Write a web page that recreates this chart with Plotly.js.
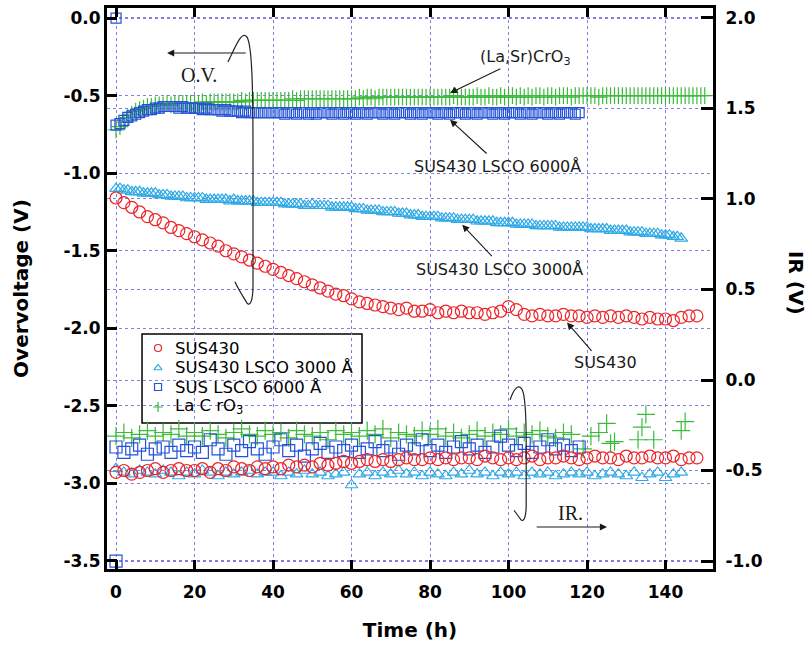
<!DOCTYPE html>
<html>
<head>
<meta charset="utf-8">
<script src="https://cdn.plot.ly/plotly-3.0.1.min.js"></script>
<style>body{margin:0;padding:0;background:#fff}#chart{width:810px;height:650px}</style>
</head>
<body>
<div id="chart"></div>
<script>
// ---------- time grids (h) ----------
const TIME_1H = [0,1,2,3,4,5,6,7,8,9,10,11,12,13,14,15,16,17,18,19,20,21,22,23,24,25,26,27,28,29,
30,31,32,33,34,35,36,37,38,39,40,41,42,43,44,45,46,47,48,49,50,51,52,53,54,55,56,57,58,59,
60,61,62,63,64,65,66,67,68,69,70,71,72,73,74,75,76,77,78,79,80,81,82,83,84,85,86,87,88,89,
90,91,92,93,94,95,96,97,98,99,100,101,102,103,104,105,106,107,108,109,110,111,112,113,114,115,116,117,118,119,
120,121,122,123,124,125,126,127,128,129,130,131,132,133,134,135,136,137,138,139,140,141,142,143,144,145,146,147,148,149,150];
const TIME_2H = [0,2,4,6,8,10,12,14,16,18,20,22,24,26,28,30,32,34,36,38,40,42,44,46,48,50,52,54,56,58,
60,62,64,66,68,70,72,74,76,78,80,82,84,86,88,90,92,94,96,98,100,102,104,106,108,110,112,114,116,118,
120,122,124,126,128,130,132,134,136,138,140,142,144,146,148];

// ---------- Overvoltage (V), left axis ----------
const ov_sus430 = [-1.16,-1.19,-1.22,-1.25,-1.28,-1.30,-1.32,-1.35,-1.37,-1.39,
-1.41,-1.43,-1.45,-1.47,-1.50,-1.52,-1.54,-1.56,-1.58,-1.60,
-1.62,-1.64,-1.66,-1.68,-1.70,-1.72,-1.74,-1.76,-1.78,-1.79,
-1.81,-1.83,-1.84,-1.85,-1.86,-1.87,-1.88,-1.87,-1.89,-1.89,
-1.88,-1.90,-1.89,-1.90,-1.89,-1.90,-1.90,-1.91,-1.90,-1.89,
-1.86,-1.88,-1.91,-1.92,-1.91,-1.92,-1.92,-1.91,-1.92,-1.92,
-1.93,-1.92,-1.93,-1.92,-1.93,-1.92,-1.93,-1.94,-1.93,-1.94,
-1.94,-1.95,-1.93,-1.92,-1.92];            // TIME_2H, 0..148 h

const ov_lsco3000 = [-1.10,-1.10,-1.11,-1.11,-1.12,-1.12,-1.12,-1.13,-1.13,-1.13,
-1.13,-1.14,-1.14,-1.14,-1.15,-1.15,-1.15,-1.15,-1.16,-1.16,
-1.16,-1.16,-1.16,-1.17,-1.17,-1.17,-1.17,-1.17,-1.17,-1.18,
-1.17,-1.18,-1.18,-1.18,-1.18,-1.18,-1.19,-1.19,-1.19,-1.19,
-1.19,-1.19,-1.19,-1.20,-1.20,-1.20,-1.20,-1.20,-1.21,-1.21,
-1.20,-1.21,-1.21,-1.21,-1.21,-1.22,-1.22,-1.22,-1.22,-1.22,
-1.22,-1.23,-1.23,-1.23,-1.24,-1.24,-1.24,-1.24,-1.25,-1.25,
-1.25,-1.25,-1.26,-1.26,-1.26,-1.27,-1.27,-1.27,-1.28,-1.28,
-1.28,-1.28,-1.28,-1.29,-1.29,-1.29,-1.29,-1.30,-1.30,-1.30,
-1.30,-1.30,-1.31,-1.31,-1.31,-1.31,-1.31,-1.32,-1.32,-1.32,
-1.32,-1.32,-1.33,-1.33,-1.33,-1.33,-1.33,-1.34,-1.34,-1.34,
-1.34,-1.34,-1.34,-1.35,-1.35,-1.35,-1.35,-1.35,-1.35,-1.35,
-1.35,-1.36,-1.36,-1.36,-1.36,-1.36,-1.37,-1.37,-1.37,-1.37,
-1.37,-1.38,-1.38,-1.38,-1.38,-1.39,-1.39,-1.39,-1.39,-1.40,
-1.40,-1.40,-1.41,-1.41,-1.42];            // TIME_1H, 0..144 h

const ov_lsco6000_start = [0.0];            // first reading at t = 0 h
const ov_lsco6000 = [-0.69,-0.68,-0.66,-0.64,-0.63,-0.62,-0.61,-0.60,-0.59,-0.59,
-0.58,-0.58,-0.57,-0.57,-0.57,-0.57,-0.58,-0.57,-0.58,-0.58,
-0.58,-0.58,-0.59,-0.58,-0.59,-0.59,-0.59,-0.60,-0.59,-0.60,
-0.60,-0.60,-0.61,-0.60,-0.61,-0.61,-0.61,-0.61,-0.61,-0.61,
-0.61,-0.61,-0.61,-0.62,-0.61,-0.61,-0.62,-0.61,-0.61,-0.62,
-0.61,-0.62,-0.61,-0.61,-0.61,-0.62,-0.61,-0.61,-0.62,-0.61,
-0.61,-0.62,-0.61,-0.61,-0.62,-0.61,-0.61,-0.61,-0.62,-0.61,
-0.61,-0.62,-0.61,-0.61,-0.61,-0.62,-0.61,-0.61,-0.62,-0.61,
-0.61,-0.61,-0.62,-0.61,-0.61,-0.62,-0.61,-0.61,-0.61,-0.62,
-0.61,-0.61,-0.62,-0.61,-0.61,-0.61,-0.62,-0.61,-0.61,-0.62,
-0.61,-0.61,-0.61,-0.62,-0.61,-0.61,-0.62,-0.61,-0.61,-0.61,
-0.62,-0.61,-0.61,-0.62,-0.61,-0.61,-0.61,-0.62,-0.61];   // TIME_1H, 0..118 h

const ov_lacro3 = [-0.72,-0.70,-0.67,-0.64,-0.62,-0.60,-0.59,-0.58,-0.57,-0.57,
-0.56,-0.56,-0.56,-0.55,-0.56,-0.55,-0.55,-0.55,-0.55,-0.55,
-0.55,-0.55,-0.54,-0.55,-0.54,-0.54,-0.54,-0.54,-0.54,-0.54,
-0.54,-0.54,-0.53,-0.54,-0.53,-0.53,-0.53,-0.53,-0.53,-0.53,
-0.53,-0.53,-0.53,-0.53,-0.53,-0.52,-0.53,-0.52,-0.52,-0.52,
-0.52,-0.52,-0.52,-0.52,-0.52,-0.52,-0.52,-0.52,-0.52,-0.52,
-0.52,-0.52,-0.51,-0.52,-0.51,-0.51,-0.52,-0.51,-0.51,-0.51,
-0.51,-0.51,-0.51,-0.51,-0.51,-0.51,-0.51,-0.51,-0.51,-0.51,
-0.51,-0.51,-0.51,-0.51,-0.51,-0.51,-0.50,-0.51,-0.51,-0.51,
-0.51,-0.51,-0.50,-0.51,-0.51,-0.50,-0.51,-0.51,-0.50,-0.51,
-0.51,-0.50,-0.51,-0.50,-0.51,-0.50,-0.51,-0.50,-0.50,-0.51,
-0.50,-0.50,-0.51,-0.50,-0.50,-0.50,-0.51,-0.50,-0.50,-0.50,
-0.50,-0.50,-0.50,-0.51,-0.50,-0.50,-0.50,-0.50,-0.50,-0.50,
-0.50,-0.50,-0.50,-0.50,-0.50,-0.50,-0.50,-0.50,-0.50,-0.50,
-0.50,-0.50,-0.50,-0.50,-0.50,-0.50,-0.50,-0.50,-0.50,-0.50,-0.50]; // TIME_1H, 0..150 h

// ---------- IR (V), right axis ----------
const ir_sus430 = [-0.51,-0.50,-0.52,-0.51,-0.50,-0.49,-0.51,-0.50,-0.49,-0.50,
-0.50,-0.49,-0.51,-0.49,-0.50,-0.48,-0.49,-0.50,-0.48,-0.49,
-0.48,-0.49,-0.47,-0.48,-0.47,-0.48,-0.46,-0.47,-0.46,-0.45,
-0.46,-0.45,-0.44,-0.45,-0.44,-0.45,-0.44,-0.43,-0.44,-0.44,
-0.43,-0.44,-0.43,-0.44,-0.43,-0.43,-0.44,-0.42,-0.43,-0.44,
-0.43,-0.44,-0.43,-0.42,-0.44,-0.43,-0.43,-0.42,-0.43,-0.44,
-0.43,-0.42,-0.43,-0.43,-0.44,-0.42,-0.43,-0.43,-0.42,-0.43,
-0.43,-0.42,-0.44,-0.43,-0.43];            // TIME_2H, 0..148 h

const ir_lsco3000 = [-0.49,-0.51,-0.52,-0.50,-0.51,-0.52,-0.50,-0.51,-0.53,-0.51,
-0.52,-0.50,-0.51,-0.53,-0.51,-0.52,-0.51,-0.50,-0.52,-0.51,
-0.51,-0.53,-0.51,-0.52,-0.50,-0.52,-0.51,-0.53,-0.52,-0.51,
-0.58,-0.52,-0.51,-0.53,-0.51,-0.52,-0.50,-0.52,-0.51,-0.53,
-0.51,-0.52,-0.53,-0.51,-0.52,-0.50,-0.52,-0.51,-0.53,-0.51,
-0.52,-0.51,-0.53,-0.51,-0.52,-0.51,-0.53,-0.52,-0.51,-0.52,
-0.51,-0.53,-0.52,-0.51,-0.52,-0.53,-0.51,-0.54,-0.52,-0.51,
-0.54,-0.52,-0.51];                         // TIME_2H, 0..144 h

const ir_lsco6000_start = [-1.0];           // first reading at t = 0 h
const ir_lsco6000 = [-0.37,-0.40,-0.38,-0.36,-0.41,-0.38,-0.37,-0.40,-0.36,-0.39,
-0.37,-0.40,-0.33,-0.38,-0.41,-0.36,-0.39,-0.34,-0.38,-0.41,
-0.37,-0.33,-0.39,-0.36,-0.42,-0.38,-0.35,-0.40,-0.37,-0.39,
-0.36,-0.40,-0.38,-0.34,-0.39,-0.37,-0.41,-0.36,-0.38,-0.33,
-0.39,-0.36,-0.40,-0.37,-0.34,-0.38,-0.36,-0.40,-0.37,-0.31,
-0.36,-0.39,-0.35,-0.40,-0.37,-0.33,-0.38,-0.36,-0.39,-0.37]; // TIME_2H, 0..118 h

const ir_lacro3 = [-0.31,-0.29,-0.32,-0.30,-0.28,-0.31,-0.29,-0.30,-0.27,-0.31,
-0.29,-0.31,-0.28,-0.30,-0.32,-0.29,-0.27,-0.30,-0.31,-0.28,
-0.30,-0.29,-0.32,-0.28,-0.30,-0.31,-0.29,-0.33,-0.28,-0.30,
-0.29,-0.31,-0.28,-0.30,-0.27,-0.32,-0.29,-0.30,-0.31,-0.28,
-0.30,-0.27,-0.31,-0.29,-0.32,-0.30,-0.28,-0.31,-0.29,-0.30,
-0.27,-0.31,-0.29,-0.30,-0.28,-0.31,-0.32,-0.29,-0.30];   // TIME_2H, 0..116 h
const time_lacro3_late = [119,121,123,125,126,127,133,134,135,137,144,145];
const ir_lacro3_late = [-0.38,-0.31,-0.29,-0.24,-0.35,-0.34,-0.33,-0.26,-0.19,-0.33,-0.28,-0.23];

// ---------- labels ----------
const X_TICKS = [0,20,40,60,80,100,120,140];
const OV_TICKS = [0,-0.5,-1,-1.5,-2,-2.5,-3,-3.5];
const OV_TICKTEXT = ['0.0','-0.5','-1.0','-1.5','-2.0','-2.5','-3.0','-3.5'];
const IR_TICKS = [2,1.5,1,0.5,0,-0.5,-1];
const IR_TICKTEXT = ['2.0','1.5','1.0','0.5','0.0','-0.5','-1.0'];
const SERIES_NAMES = ['SUS430','SUS430 LSCO 3000 Å','SUS LSCO 6000 Å','La C rO<sub>3</sub>'];

// ---------- styles ----------
const RED = '#ec2327', CYAN = '#2ea9e6', BLUE = '#2453d8', GREEN = '#3cba3c';
const SYMBOLS = ['circle-open','triangle-up-open','square-open','cross-thin-open'];
const COLORS = [RED, CYAN, BLUE, GREEN];

function mk(x, y, yaxis, sym, color, size, w) {
  return {x: x, y: y, yaxis: yaxis, type: 'scatter', mode: 'markers', showlegend: false,
    hoverinfo: 'skip', cliponaxis: true,
    marker: {symbol: sym, size: size, color: color, line: {color: color, width: w}}};
}
const t2 = (n) => TIME_2H.slice(0, n);
const t1 = (n) => TIME_1H.slice(0, n);

const traces = [
  // overvoltage
  mk(t1(ov_lacro3.length), ov_lacro3, 'y', 'cross-thin-open', GREEN, 12, 1.2),
  mk([0].concat(t1(ov_lsco6000.length)), ov_lsco6000_start.concat(ov_lsco6000), 'y', 'square-open', BLUE, 10, 1.2),
  mk(t1(ov_lsco3000.length), ov_lsco3000, 'y', 'triangle-up-open', CYAN, 11, 1.2),
  mk(t2(ov_sus430.length), ov_sus430, 'y', 'circle-open', RED, 12, 1.2),
  // IR
  mk(t2(ir_lacro3.length).concat(time_lacro3_late), ir_lacro3.concat(ir_lacro3_late), 'y2', 'cross-thin-open', GREEN, 13, 1.2),
  mk([0].concat(t2(ir_lsco6000.length)), ir_lsco6000_start.concat(ir_lsco6000), 'y2', 'square-open', BLUE, 12, 1.2),
  mk(t2(ir_lsco3000.length), ir_lsco3000, 'y2', 'triangle-up-open', CYAN, 11, 1.1),
  mk(t2(ir_sus430.length), ir_sus430, 'y2', 'circle-open', RED, 12, 1.2)
];

// ---------- legend (drawn in the plot frame, on a hidden 0..1 axis pair) ----------
const LEG = {x0: 0.0578, x1: 0.4208, y0: 0.2602, y1: 0.4189, mx: 0.0842, tx: 0.1089,
             rows: [0.3939, 0.3583, 0.3244, 0.2888]};
for (let i = 0; i < 4; i++) {
  traces.push({x: [LEG.mx], y: [LEG.rows[i]], xaxis: 'x2', yaxis: 'y3', type: 'scatter', mode: 'markers',
    showlegend: false, hoverinfo: 'skip',
    marker: {symbol: SYMBOLS[i], size: 7, color: COLORS[i], line: {color: COLORS[i], width: 1.2}}});
}

const GRID = '#7f7fe6';
const TICKFONT = {family: 'DejaVu Sans, sans-serif', size: 17, weight: 'bold', color: '#000'};
const SANS = 'DejaVu Sans, sans-serif';
const SERIF = 'Liberation Serif, Times New Roman, serif';

function note(x, y, yref, text, font) {
  return {x: x, y: y, xref: 'x', yref: yref, text: text, showarrow: false, font: font};
}
function arrow(xTail, yTail, xHead, yHead, yref) {
  return {x: xHead, y: yHead, ax: xTail, ay: yTail, xref: 'x', yref: yref, axref: 'x', ayref: yref,
    text: '', showarrow: true, arrowhead: 2, arrowsize: 1.3, arrowwidth: 1.1, arrowcolor: '#1a1a1a'};
}
const labelFont = {family: SANS, size: 16, color: '#1a1a1a'};

const annotations = [
  note(21.1, -0.367, 'y', 'O.V.', {family: SERIF, size: 20, color: '#1a1a1a'}),
  arrow(33.4, -0.225, 13.0, -0.225, 'y'),
  note(104.2, -0.251, 'y', '(La,Sr)CrO<sub>3</sub>', labelFont),
  arrow(98.3, -0.322, 85.1, -0.483, 'y'),
  note(97.1, -0.959, 'y', 'SUS430 LSCO 6000Å', labelFont),
  arrow(94.8, -0.882, 85.1, -0.656, 'y'),
  note(97.8, -1.622, 'y', 'SUS430 LSCO 3000Å', labelFont),
  arrow(96.1, -1.544, 88.2, -1.332, 'y'),
  note(124.6, -2.22, 'y', 'SUS430', labelFont),
  arrow(121.5, -2.156, 114.9, -1.963, 'y'),
  note(115.7, -0.735, 'y2', 'IR.', {family: SERIF, size: 20, color: '#1a1a1a'}),
  arrow(106.8, -0.812, 125.1, -0.812, 'y2'),
  {x: 1.137, y: 0.5098, xref: 'paper', yref: 'paper', xanchor: 'center', yanchor: 'middle',
    text: 'IR (V)', textangle: 90, showarrow: false,
    font: {family: SANS, size: 20, weight: 'bold', color: '#000'}}
];
for (let i = 0; i < 4; i++) {
  annotations.push({x: LEG.tx, y: LEG.rows[i], xref: 'paper', yref: 'paper', xanchor: 'left',
    yanchor: 'middle', text: SERIES_NAMES[i], showarrow: false,
    font: {family: SANS, size: 16.5, color: '#000'}});
}

const layout = {
  width: 810, height: 650,
  margin: {l: 107, r: 97, t: 8, b: 81},
  paper_bgcolor: '#fff', plot_bgcolor: '#fff',
  font: {family: SANS, color: '#000'},
  showlegend: false,
  xaxis: {range: [-2.3, 152.1], tickvals: X_TICKS, ticks: 'inside', ticklen: 9, tickwidth: 3,
    tickcolor: '#000', showline: true, linecolor: '#000', linewidth: 3, mirror: 'ticks',
    showgrid: true, gridcolor: GRID, griddash: 'dot', gridwidth: 1, zeroline: false,
    tickfont: TICKFONT, ticklabelstandoff: 6,
    title: {text: 'Time (h)', font: {family: SANS, size: 20, weight: 'bold', color: '#000'}, standoff: 22}},
  yaxis: {range: [-3.552, 0.065], tickvals: OV_TICKS, ticktext: OV_TICKTEXT, ticks: 'inside',
    ticklen: 10, tickwidth: 3, tickcolor: '#000', showline: true, linecolor: '#000', linewidth: 3,
    mirror: false, showgrid: true, gridcolor: GRID, griddash: 'dot', gridwidth: 1, zeroline: false,
    tickfont: TICKFONT,
    title: {text: 'Overvoltage (V)', font: {family: SANS, size: 20, weight: 'bold', color: '#000'}, standoff: 30}},
  yaxis2: {overlaying: 'y', side: 'right', range: [-1.044, 2.055], tickvals: IR_TICKS, ticktext: IR_TICKTEXT,
    ticks: 'inside', ticklen: 12, tickwidth: 3, tickcolor: '#000', showline: true, linecolor: '#000',
    linewidth: 3, showgrid: true, gridcolor: GRID, griddash: 'dot', gridwidth: 1, zeroline: false,
    tickfont: TICKFONT, ticklabelstandoff: 6},
  xaxis2: {overlaying: 'x', range: [0, 1], visible: false, fixedrange: true},
  yaxis3: {overlaying: 'y', range: [0, 1], visible: false, fixedrange: true},
  annotations: annotations,
  shapes: [
    {type: 'rect', xref: 'paper', yref: 'paper', x0: LEG.x0, x1: LEG.x1, y0: LEG.y0, y1: LEG.y1,
      layer: 'between', fillcolor: '#fff', line: {color: '#000', width: 1.5}},
    {type: 'path', xref: 'x', yref: 'y', line: {color: '#222', width: 1.2},
      path: 'M 28.5,-0.283 C 30.5,-0.18 32,-0.08 33.3,-0.12 C 34.7,-0.17 34.9,-0.45 34.9,-0.9 L 34.9,-1.72 C 34.9,-1.85 33.8,-1.86 33.2,-1.83 C 32.2,-1.79 31,-1.74 30.3,-1.70'},
    {type: 'path', xref: 'x', yref: 'y2', line: {color: '#222', width: 1.2},
      path: 'M 100.4,-0.11 C 101.3,-0.05 102.5,-0.02 103.4,-0.05 C 104.3,-0.08 104.5,-0.2 104.5,-0.35 L 104.5,-0.69 C 104.5,-0.76 103.8,-0.79 103.1,-0.77 C 102.4,-0.75 101.8,-0.73 101.4,-0.72'}
  ]
};

Plotly.newPlot('chart', traces, layout, {staticPlot: true, displayModeBar: false});
</script>
</body>
</html>
